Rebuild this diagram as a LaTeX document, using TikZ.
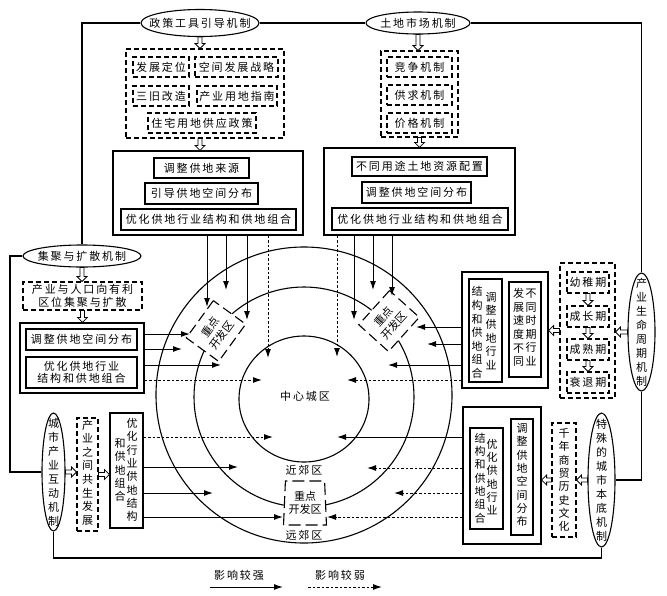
\documentclass[tikz,border=0pt]{standalone}
\usepackage{fontspec}
\newfontfamily\cjk[LetterSpace=17]{Noto Sans CJK SC}
\newfontfamily\cjkv{Noto Sans CJK SC}
\usetikzlibrary{arrows.meta,shapes.geometric,calc}
\newcommand\harrD[2]{\path[harrst] let \p1=(#1), \p2=(#2) in (\x1-2pt,\y1) -- (\x1-2pt,\y2+5pt) -- (\x1-5pt,\y2+5pt) -- (\x1,\y2) -- (\x1+5pt,\y2+5pt) -- (\x1+2pt,\y2+5pt) -- (\x1+2pt,\y1) -- cycle;}
\newcommand\harrL[2]{\path[harrst] let \p1=(#1), \p2=(#2) in (\x1,\y1+2pt) -- (\x2+5pt,\y1+2pt) -- (\x2+5pt,\y1+5pt) -- (\x2,\y1) -- (\x2+5pt,\y1-5pt) -- (\x2+5pt,\y1-2pt) -- (\x1,\y1-2pt) -- cycle;}
\newcommand\harrR[2]{\path[harrst] let \p1=(#1), \p2=(#2) in (\x1,\y1+2pt) -- (\x2-5pt,\y1+2pt) -- (\x2-5pt,\y1+5pt) -- (\x2,\y1) -- (\x2-5pt,\y1-5pt) -- (\x2-5pt,\y1-2pt) -- (\x1,\y1-2pt) -- cycle;}
\begin{document}
\begin{tikzpicture}[x=1pt,y=-1pt,line width=1pt,
  font=\cjk\fontsize{11}{13}\selectfont,
  ell/.style={ellipse,draw,line width=1.1pt,inner sep=0pt,fill=white},
  sbox/.style={draw,line width=1.2pt,inner sep=0pt},
  dbox/.style={draw,line width=1.1pt,dash pattern=on 5pt off 3pt,inner sep=0pt},
  zone/.style={draw,line width=1.1pt,dash pattern=on 10pt off 5pt,fill=white,inner sep=0pt,align=center,minimum width=46,minimum height=40,font=\cjkv\fontsize{11}{14}\selectfont},
  sarr/.style={line width=1pt,-{Latex[length=9pt,width=6pt]}},
  darr/.style={sarr,dash pattern=on 2.5pt off 2pt},
  harrst/.style={draw,fill=white,line width=0.8pt},
  vcol/.style={align=center,inner sep=0pt,font=\cjkv\fontsize{11}{13.3}\selectfont},
  vcolb/.style={align=center,inner sep=0pt,font=\cjkv\fontsize{11}{13.6}\selectfont},
  evcol/.style={align=center,inner sep=0pt,font=\cjkv\fontsize{11}{14}\selectfont},
  ring/.style={draw,line width=1.1pt,inner sep=0pt},
  frame/.style={line width=1.1pt}]
\useasboundingbox (0,0) rectangle (667,595);

% ---------- rings ----------
\node[ring,circle,minimum size=296] (outer) at (304,395) {};
\node[ring,circle,minimum size=220] (middle) at (304,397) {};
\node[ring,ellipse,minimum width=130,minimum height=126] (inner) at (304,399) {};
\node (zx) at (305,396) {中心城区};
\node (jjq) at (304,470) {近郊区};
\node (yjq) at (304,535) {远郊区};

% ---------- key development zones ----------
\node[zone,rotate=54] (zl) at (216,331) {重点\\开发区};
\node[zone,rotate=48] (zr) at (389,321) {重点\\开发区};
\node[zone,trapezium,trapezium angle=86,trapezium stretches=true,minimum width=43,minimum height=44,dash pattern=on 12pt off 5pt,font=\cjkv\fontsize{11}{12.5}\selectfont] (zb) at (305,503) {重点\\开发区};

% ---------- mechanism ellipses ----------
\node[ell,minimum width=118,minimum height=27] (pe) at (200,23) {};
\node (pet) at (pe) {政策工具引导机制};
\node[ell,minimum width=104,minimum height=22] (le) at (418,23) {};
\node (let) at (le) {土地市场机制};
\node[ell,minimum width=118,minimum height=22] (je) at (82,256) {};
\node (jet) at (je) {集聚与扩散机制};
\node[ell,minimum width=23,minimum height=118] (ce) at (53.5,472) {};
\node[evcol] (cet) at (ce) {城\\市\\产\\业\\互\\动\\机\\制};
\node[ell,minimum width=27,minimum height=134] (se) at (601.5,480) {};
\node[evcol] (set) at (se) {特\\殊\\的\\城\\市\\本\\底\\机\\制};
\node[ell,minimum width=27,minimum height=118] (ye) at (641.5,332) {};
\node[evcol] (yet) at (ye) {产\\业\\生\\命\\周\\期\\机\\制};

% ---------- frame lines ----------
\coordinate (lf) at (10,256);
\coordinate (bf) at (0,558);
\draw[frame] (pe.west) -| (je.north);
\draw[frame] (pe.east) -- (le.west);
\draw[frame] (le.east) -| (ye.north);
\draw[frame] (ye.south) |- (se.east);
\draw[frame] (je.west) -- (lf) |- (ce.west);
\draw[frame] (ce.south) -- (ce.south |- bf) -- (se.south |- bf) -- (se.south);

% ---------- policy branch ----------
\node[dbox,minimum width=158,minimum height=89] (pd) at (205,93.5) {};
\node[dbox,minimum width=56,minimum height=20] (fz) at (161,67) {发展定位};
\node[dbox,minimum width=83,minimum height=20] (kj) at (236.5,67) {空间发展战略};
\node[dbox,minimum width=56,minimum height=20] (sj) at (161,96) {三旧改造};
\node[dbox,minimum width=80,minimum height=20] (cy) at (237,96) {产业用地指南};
\node[dbox,minimum width=108,minimum height=20] (zz) at (202,123) {住宅用地供应政策};
\node[sbox,minimum width=190,minimum height=84] (pb) at (208,193) {};
\node[sbox,minimum width=95,minimum height=20] (p1) at (201.5,168) {调整供地来源};
\node[sbox,minimum width=113,minimum height=21] (p2) at (201.5,193.5) {引导供地空间分布};
\node[sbox,minimum width=175,minimum height=21] (p3) at (208.5,219.5) {优化供地行业结构和供地组合};
\harrD{pe.south}{pd.north}
\harrD{pd.south -| pe.south}{pb.north}

% ---------- land market branch ----------
\node[dbox,minimum width=77,minimum height=86] (ld) at (419.5,94) {};
\node[dbox,minimum width=65,minimum height=20] (l1) at (419.5,67) {竞争机制};
\node[dbox,minimum width=65,minimum height=20] (l2) at (419.5,95) {供求机制};
\node[dbox,minimum width=65,minimum height=20] (l3) at (419.5,123) {价格机制};
\node[sbox,minimum width=191,minimum height=87] (lb) at (419.5,191.5) {};
\node[sbox,minimum width=135,minimum height=19] (m1) at (419.5,166.5) {不同用途土地资源配置};
\node[sbox,minimum width=109,minimum height=21] (m2) at (416.5,192.5) {调整供地空间分布};
\node[sbox,minimum width=176,minimum height=22] (m3) at (420,219) {优化供地行业结构和供地组合};
\harrD{le.south}{ld.north}
\harrD{ld.south}{lb.north}

% ---------- agglomeration branch ----------
\node[dbox,minimum width=119,minimum height=28,align=center,font=\cjk\fontsize{11}{12.5}\selectfont] (jd) at (82.5,296) {产业与人口向有利\\区位集聚与扩散};
\node[sbox,minimum width=124,minimum height=70] (jb) at (82,358) {};
\node[sbox,minimum width=111,minimum height=21] (j1) at (81.5,339.5) {调整供地空间分布};
\node[sbox,minimum width=111,minimum height=31,align=center,font=\cjk\fontsize{11}{12}\selectfont] (j2) at (81.5,372.5) {优化供地行业\\结构和供地组合};
\harrD{je.south}{jd.north}
\harrD{jd.south}{jb.north}

% ---------- industry life cycle branch ----------
\node[sbox,minimum width=86,minimum height=116] (yb) at (505,330) {};
\node[sbox,minimum width=33,minimum height=103] (y1) at (485.5,330.5) {};
\node[vcolb] (y1a) at (477,332.5) {结\\构\\和\\供\\地\\组\\合};
\node[vcolb] (y1b) at (491,331) {调\\整\\供\\地\\行\\业};
\node[sbox,minimum width=32,minimum height=95] (y2) at (525,329.5) {};
\node[vcolb] (y2a) at (518.5,327.5) {发\\展\\速\\度\\不\\同};
\node[vcolb] (y2b) at (531,327.5) {不\\同\\时\\期\\行\\业};
\node[dbox,minimum width=55,minimum height=135] (yd) at (587.5,330.5) {};
\node[dbox,minimum width=42,minimum height=21] (q1) at (588,282.5) {幼稚期};
\node[dbox,minimum width=42,minimum height=21] (q2) at (588,316.5) {成长期};
\node[dbox,minimum width=42,minimum height=21] (q3) at (588,349.5) {成熟期};
\node[dbox,minimum width=42,minimum height=21] (q4) at (588,382.5) {衰退期};
\harrD{q1.south}{q2.north}
\harrD{q2.south}{q3.north}
\harrD{q3.south}{q4.north}
\harrL{ye.west}{yd.east}
\harrL{yd.west}{yb.east}

% ---------- urban industry interaction branch ----------
\node[dbox,minimum width=21,minimum height=113] (cd) at (87.5,474.5) {};
\node[vcolb] (cdt) at (87.5,472.5) {产\\业\\之\\间\\共\\生\\发\\展};
\node[sbox,minimum width=33,minimum height=115] (cb) at (126.5,470.5) {};
\node[vcol] (cba) at (132,470) {优\\化\\行\\业\\供\\地\\结\\构};
\node[vcol] (cbb) at (120,470) {和\\供\\地\\组\\合};
\harrR{ce.east}{cd.west}
\harrR{cd.east}{cb.west}

% ---------- urban background branch ----------
\node[sbox,minimum width=78,minimum height=137] (sb) at (502,475.5) {};
\node[sbox,minimum width=33,minimum height=101] (s1) at (486.5,478.5) {};
\node[vcol] (s1a) at (480,478) {结\\构\\和\\供\\地\\组\\合};
\node[vcol] (s1b) at (492,477) {优\\化\\供\\地\\行\\业};
\node[sbox,minimum width=22,minimum height=116] (s2) at (522,477) {};
\node[vcol] (s2t) at (522,475) {调\\整\\供\\地\\空\\间\\分\\布};
\node[dbox,minimum width=24,minimum height=114] (sd) at (564,480) {};
\node[vcol] (sdt) at (564,480) {千\\年\\商\\贸\\历\\史\\文\\化};
\harrL{se.west}{sd.east}
\harrL{sd.west}{sb.east}

% ---------- influence arrows ----------
\coordinate (tp1) at (207,307); \coordinate (tp2) at (226,290);
\coordinate (tp3) at (247,320); \coordinate (tp4) at (268,358);
\draw[sarr] (pb.south -| tp1) -- (tp1);
\draw[sarr] (pb.south -| tp2) -- (tp2);
\draw[sarr] (pb.south -| tp3) -- (tp3);
\draw[darr] (pb.south -| tp4) -- (tp4);

\coordinate (tl1) at (337,357); \coordinate (tl2) at (354,320);
\coordinate (tl3) at (373,290); \coordinate (tl4) at (392,296);
\draw[darr] (lb.south -| tl1) -- (tl1);
\draw[sarr] (lb.south -| tl2) -- (tl2);
\draw[sarr] (lb.south -| tl3) -- (tl3);
\draw[sarr] (lb.south -| tl4) -- (tl4);

\coordinate (ja1) at (190,334); \coordinate (ja2) at (182,349);
\coordinate (ja3) at (221,365); \coordinate (ja4) at (262,380);
\draw[sarr] (jb.east |- ja1) -- (ja1);
\draw[sarr] (jb.east |- ja2) -- (ja2);
\draw[sarr] (jb.east |- ja3) -- (ja3);
\draw[darr] (jb.east |- ja4) -- (ja4);

\coordinate (ya1) at (416,327); \coordinate (ya2) at (427,344);
\coordinate (ya3) at (388,365); \coordinate (ya4) at (347,380);
\draw[sarr] (yb.west |- ya1) -- (ya1);
\draw[sarr] (yb.west |- ya2) -- (ya2);
\draw[sarr] (yb.west |- ya3) -- (ya3);
\draw[darr] (yb.west |- ya4) -- (ya4);

\coordinate (ca1) at (273,437); \coordinate (ca2) at (238,467);
\coordinate (ca3) at (213,493); \coordinate (ca4) at (283,517);
\draw[darr] (cb.east |- ca1) -- (ca1);
\draw[sarr] (cb.east |- ca2) -- (ca2);
\draw[sarr] (cb.east |- ca3) -- (ca3);
\draw[sarr] (cb.east |- ca4) -- (ca4);

\coordinate (sa1) at (337,437); \coordinate (sa2) at (367,468);
\coordinate (sa3) at (394,493); \coordinate (sa4) at (327,517);
\draw[sarr] (sb.west |- sa1) -- (sa1);
\draw[darr] (sb.west |- sa2) -- (sa2);
\draw[darr] (sb.west |- sa3) -- (sa3);
\draw[darr] (sb.west |- sa4) -- (sa4);

% ---------- legend ----------
\node (lg1) at (239,575) {影响较强};
\node (lg2) at (340,575) {影响较弱};
\coordinate (lga) at (210,587); \coordinate (lgb) at (283,587);
\coordinate (lgc) at (308,587); \coordinate (lgd) at (382,587);
\draw[sarr] (lga) -- (lgb);
\draw[darr] (lgc) -- (lgd);
\end{tikzpicture}
\end{document}
